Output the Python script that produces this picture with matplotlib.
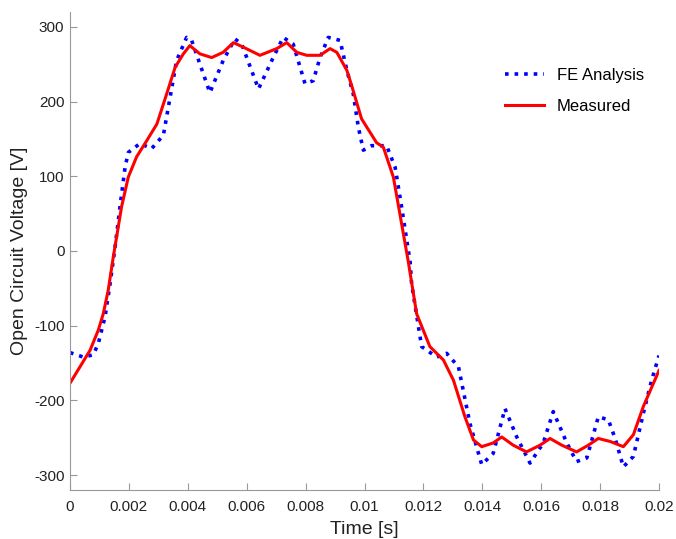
import matplotlib.pyplot as plt

# FE analysis (blue dotted)
fe_time = [0.0, 0.00045, 0.00079, 0.00096, 0.00119, 0.00136, 0.00153, 0.0017, 0.00187,
           0.00198, 0.00238, 0.00277, 0.00317, 0.0034, 0.00362, 0.00396, 0.00413,
           0.00475, 0.0052, 0.0056, 0.00583, 0.0064, 0.0069, 0.00724, 0.00758,
           0.00798, 0.00826, 0.00849, 0.00877, 0.00917, 0.0094, 0.00962, 0.00979,
           0.00996, 0.01024, 0.01075, 0.01104, 0.01126, 0.01155, 0.0116, 0.01194,
           0.01245, 0.01279, 0.01319, 0.01358, 0.01398, 0.01437, 0.01477, 0.01517,
           0.01562, 0.01607, 0.01641, 0.01687, 0.0172, 0.01755, 0.01794, 0.01828,
           0.01851, 0.01879, 0.01913, 0.01947, 0.01975, 0.02]
fe_volt = [-136, -142, -139, -124, -88, -44, 5, 60, 112,
           132, 144, 137, 155, 206, 255, 286, 282,
           212, 255, 284, 277, 217, 259, 286, 277,
           224, 228, 259, 286, 282, 242, 210, 166,
           135, 141, 141, 112, 59, -15, -44, -128,
           -142, -137, -155, -231, -286, -271, -211, -249,
           -284, -257, -215, -257, -282, -277, -222, -226,
           -251, -289, -275, -217, -173, -140]

# measured (red solid)
meas_time = [0.0, 0.00034, 0.00068, 0.00096, 0.00113, 0.0013, 0.00147, 0.00175,
             0.00198, 0.00226, 0.00261, 0.00295, 0.00328, 0.00357, 0.00385, 0.00407,
             0.00441, 0.00481, 0.0052, 0.00555, 0.00588, 0.00645, 0.00702, 0.00736,
             0.0077, 0.00804, 0.00849, 0.00883, 0.00906, 0.0094, 0.00956, 0.0099,
             0.01041, 0.01064, 0.01098, 0.0112, 0.01149, 0.01177, 0.01222, 0.01268,
             0.01302, 0.01341, 0.0137, 0.01398, 0.01437, 0.01466, 0.01505, 0.0155,
             0.01596, 0.0163, 0.0167, 0.0172, 0.0176, 0.01794, 0.01834, 0.01879,
             0.01913, 0.01947, 0.02]
meas_volt = [-177, -155, -133, -106, -84, -52, -8, 59,
             99, 126, 148, 170, 210, 246, 264, 275,
             264, 259, 266, 279, 273, 262, 271, 279,
             266, 262, 262, 271, 266, 242, 222, 177,
             145, 139, 99, 50, -15, -84, -128, -146,
             -173, -222, -253, -262, -257, -249, -260, -269,
             -260, -251, -260, -269, -260, -251, -255, -262,
             -246, -208, -160]

plt.rcParams["font.family"] = ["Liberation Sans", "DejaVu Sans"]
plt.rcParams["axes.unicode_minus"] = False

fig = plt.figure(figsize=(6.76, 5.39), dpi=100)
ax = fig.add_axes([70 / 676, 1 - 490 / 539, 589 / 676, 478 / 539])

ax.plot(fe_time, fe_volt, color="#0000ff", linestyle=":", linewidth=2.6, label="FE Analysis")
ax.plot(meas_time, meas_volt, color="#ff0000", linewidth=2.2, label="Measured")

ax.set_xlim(0, 0.02)
ax.set_ylim(-320, 320)
ax.set_xticks([0, 0.002, 0.004, 0.006, 0.008, 0.01, 0.012, 0.014, 0.016, 0.018, 0.02])
ax.set_xticklabels(["0", "0.002", "0.004", "0.006", "0.008", "0.01", "0.012",
                    "0.014", "0.016", "0.018", "0.02"])
ax.set_yticks([-300, -200, -100, 0, 100, 200, 300])

for side in ["top", "right"]:
    ax.spines[side].set_visible(False)
for side in ["left", "bottom"]:
    ax.spines[side].set_color("#999999")
ax.tick_params(direction="in", length=5, color="#999999", labelsize=11,
               labelcolor="#222222")
ax.tick_params(axis="y", pad=4)
ax.tick_params(axis="x", pad=7)

ax.set_xlabel("Time [s]", fontsize=14, color="#222222", labelpad=5)
ax.set_ylabel("Open Circuit Voltage [V]", fontsize=14, color="#222222", labelpad=4)

ax.legend(loc="upper right", bbox_to_anchor=(1.0, 0.915), frameon=False, fontsize=12,
          handlelength=2.3, labelspacing=1.0)

fig.savefig("out.png", dpi=100)
plt.close(fig)
